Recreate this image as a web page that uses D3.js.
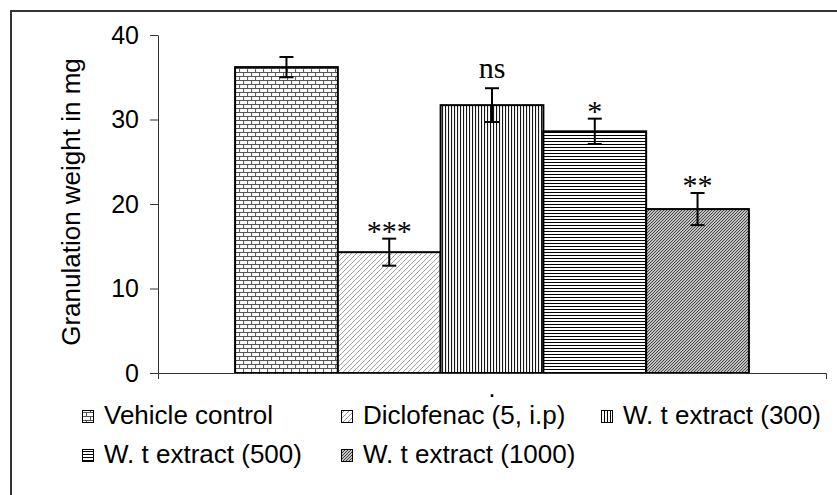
<!DOCTYPE html>
<html lang="en">
<head>
  <meta charset="UTF-8">
  <title>Granulation weight</title>
  <script src="https://cdn.jsdelivr.net/npm/d3@7"></script>
  <style>
    body { margin: 0; background: #fff; }
    svg { display: block; }
  </style>
</head>
<body>

  <svg id="svg" width="837" height="495"></svg>

  <script>
    // values
    const categories = ['.']
    const series = ['Vehicle control', 'Diclofenac (5, i.p)', 'W. t extract (300)', 'W. t extract (500)', 'W. t extract (1000)']
    const means = [36.2, 14.3, 31.7, 28.6, 19.4]
    const errors = [1.2, 1.6, 2.0, 1.5, 1.9]
    const marks = ['', '***', 'ns', '*', '**']
    const yTicks = [0, 10, 20, 30, 40]
    const patterns = ['brick', 'diagUp', 'vert', 'horiz', 'diagDense']

    const sans = '"Liberation Sans", Arial, sans-serif'
    const serif = '"Liberation Serif", "Times New Roman", serif'

    const margin = { top: 35, right: 11, bottom: 122, left: 158 }
    const width = 837 - margin.left - margin.right
    const height = 495 - margin.top - margin.bottom

    const svg = d3.select('#svg')

    // fill patterns
    const defs = svg.append('defs')
    function pattern(id, w, h) {
      const p = defs.append('pattern').attr('id', id)
        .attr('patternUnits', 'userSpaceOnUse')
        .attr('width', w).attr('height', h)
      p.append('rect').attr('width', w).attr('height', h).attr('fill', '#fff')
      return p
    }
    pattern('brick', 8, 8).append('path')
      .attr('d', 'M0,0.5H8M0,4.5H8M0.5,0V4M4.5,4V8')
      .attr('stroke', '#555').attr('stroke-width', 1)
    pattern('diagUp', 5, 5).append('path')
      .attr('d', 'M0,5L5,0M-1,1L1,-1M4,6L6,4')
      .attr('stroke', '#999').attr('stroke-width', 1)
    pattern('vert', 3, 3).append('rect')
      .attr('width', 1).attr('height', 3).attr('fill', '#000')
    pattern('horiz', 3, 3).append('rect')
      .attr('width', 3).attr('height', 1).attr('fill', '#000')
    pattern('diagDense', 3, 3).append('path')
      .attr('d', 'M0,3L3,0M-1,1L1,-1M2,4L4,2')
      .attr('stroke', '#333').attr('stroke-width', 1.1)

    // outer frame (runs off the right and bottom edges)
    svg.append('rect')
      .attr('x', 11).attr('y', 11)
      .attr('width', 900).attr('height', 600)
      .attr('fill', 'none').attr('stroke', '#333').attr('stroke-width', 2)

    // scales
    const x0 = d3.scaleBand()
      .domain(categories)
      .range([margin.left, margin.left + width])
      .paddingOuter(0.15)
    const x1 = d3.scaleBand()
      .domain(series)
      .range([0, x0.bandwidth()])
    const y = d3.scaleLinear()
      .domain([0, 40])
      .range([margin.top + height, margin.top])

    // bars
    const data = series.map((s, i) => ({ s, mean: means[i], err: errors[i], mark: marks[i], pat: patterns[i] }))
    const group = svg.append('g')
      .selectAll('g')
      .data(categories)
      .enter()
      .append('g')
      .attr('transform', d => `translate(${x0(d)},0)`)

    group.selectAll('rect')
      .data(data)
      .enter()
      .append('rect')
      .attr('x', d => x1(d.s))
      .attr('y', d => y(d.mean))
      .attr('width', x1.bandwidth())
      .attr('height', d => y(0) - y(d.mean))
      .attr('fill', d => `url(#${d.pat})`)
      .attr('stroke', '#000')
      .attr('stroke-width', 2)

    // error bars
    const eb = group.selectAll('g.err')
      .data(data)
      .enter()
      .append('g')
      .attr('class', 'err')
      .attr('transform', d => `translate(${x1(d.s) + x1.bandwidth() / 2},0)`)
      .attr('stroke', '#000').attr('stroke-width', 2)
    eb.append('line')
      .attr('y1', d => y(d.mean + d.err)).attr('y2', d => y(d.mean - d.err))
    eb.append('line')
      .attr('x1', -7).attr('x2', 7)
      .attr('y1', d => y(d.mean + d.err)).attr('y2', d => y(d.mean + d.err))
    eb.append('line')
      .attr('x1', -7).attr('x2', 7)
      .attr('y1', d => y(d.mean - d.err)).attr('y2', d => y(d.mean - d.err))

    // significance marks
    group.selectAll('text.mark')
      .data(data.filter(d => d.mark))
      .enter()
      .append('text')
      .attr('class', 'mark')
      .attr('x', d => x1(d.s) + x1.bandwidth() / 2)
      .attr('y', d => y(d.mean + d.err) + (d.mark === 'ns' ? -10 : 2))
      .attr('text-anchor', 'middle')
      .style('font-family', serif)
      .style('font-size', '30px')
      .text(d => d.mark)

    // y axis
    const yAxis = svg.append('g')
      .attr('transform', `translate(${margin.left},0)`)
      .call(d3.axisLeft(y).tickValues(yTicks).tickSize(8).tickSizeOuter(0).tickPadding(11))
    yAxis.select('.domain').attr('stroke', '#333')
    yAxis.selectAll('.tick line').attr('stroke', '#333')
    yAxis.selectAll('.tick text')
      .attr('fill', '#000')
      .style('font-family', sans)
      .style('font-size', '25px')

    // x axis
    const xAxis = svg.append('g')
      .attr('transform', `translate(0,${y(0)})`)
      .call(d3.axisBottom(x0).tickSize(0).tickSizeOuter(6).tickPadding(6))
    xAxis.select('.domain').attr('stroke', '#333')
    xAxis.selectAll('.tick text')
      .attr('fill', '#000')
      .style('font-family', sans)
      .style('font-size', '25px')

    // y title
    svg.append('text')
      .attr('transform', `translate(80,${(y(0) + y(40)) / 2 - 2}) rotate(-90)`)
      .attr('text-anchor', 'middle')
      .style('font-family', sans)
      .style('font-size', '26px')
      .text('Granulation weight in mg')

    // legend
    const legCols = [82, 341, 601]
    const legRows = [424, 463]
    const leg = svg.append('g')
      .selectAll('g')
      .data(data)
      .enter()
      .append('g')
      .attr('transform', (d, i) => `translate(${legCols[i % 3]},${legRows[Math.floor(i / 3)]})`)
    leg.append('rect')
      .attr('x', 0.5).attr('y', -13.5)
      .attr('width', 11).attr('height', 12)
      .attr('fill', d => `url(#${d.pat})`)
      .attr('stroke', '#000').attr('stroke-width', 1)
    leg.append('text')
      .attr('x', 22)
      .style('font-family', sans)
      .style('font-size', '26px')
      .text(d => d.s)
  </script>
</body>
</html>
